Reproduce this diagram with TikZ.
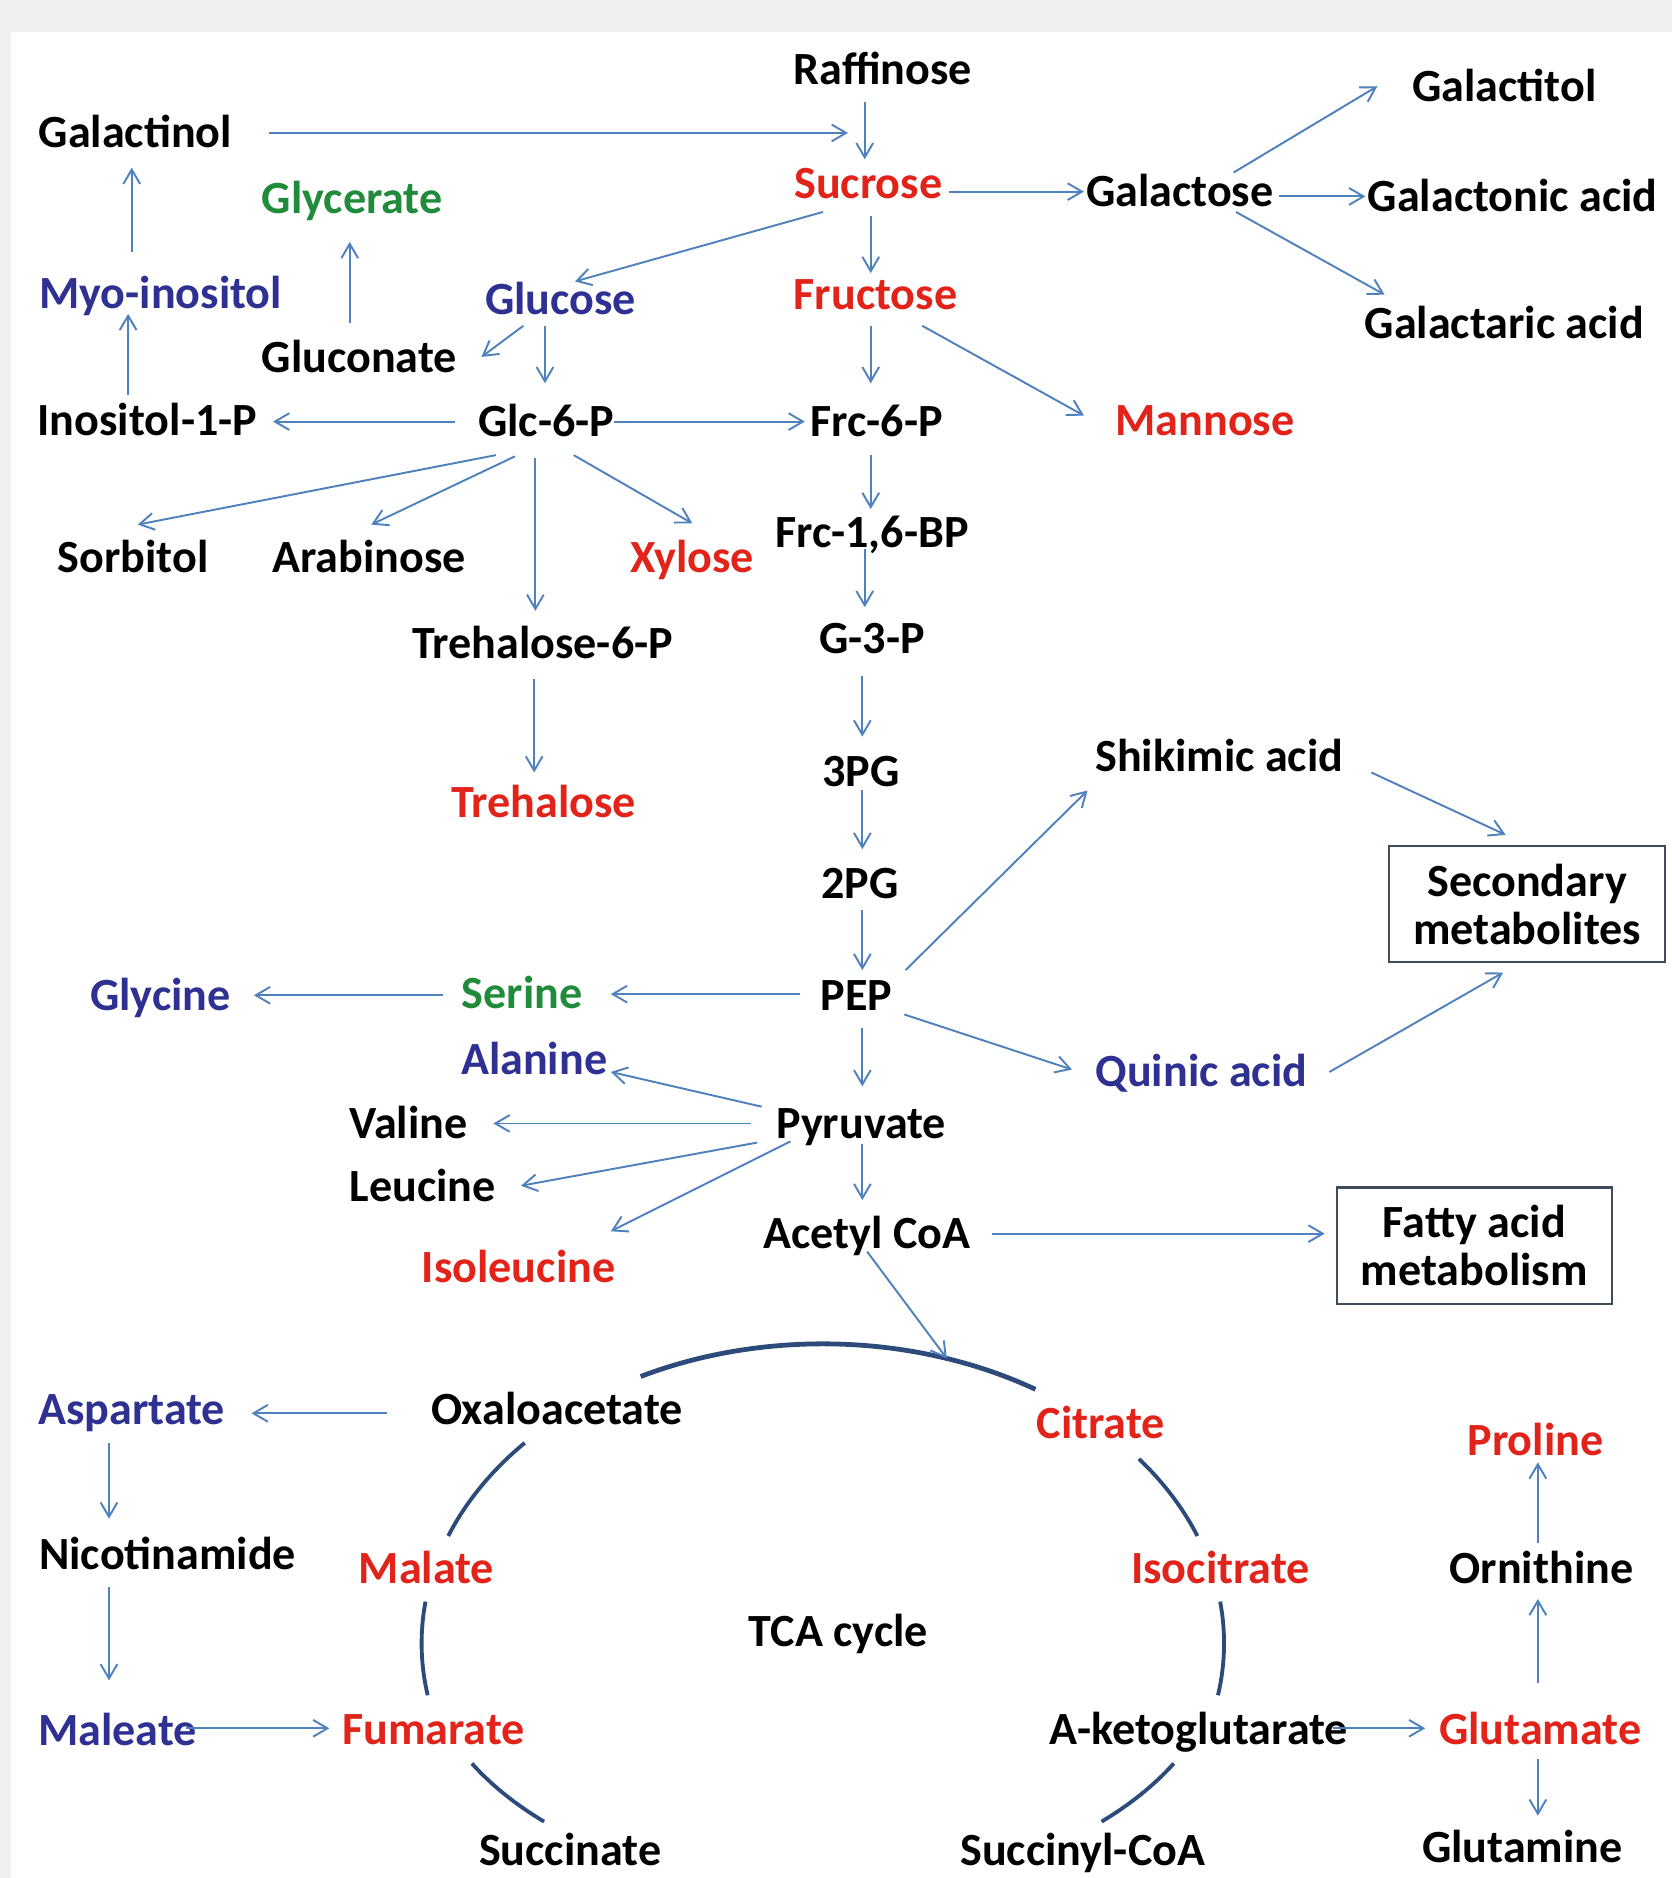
\documentclass[tikz,border=0pt]{standalone}
\usepackage{fontspec}
\setmainfont{Carlito}
\usepackage{tikz}
\usetikzlibrary{arrows.meta}
\usepackage{xcolor}
\definecolor{metred}{HTML}{E2231A}
\definecolor{metblue}{HTML}{2E3192}
\definecolor{metgreen}{HTML}{218B3C}
\definecolor{arrblue}{HTML}{4F81BD}
\definecolor{cycblue}{HTML}{2C4A7A}
\definecolor{boxgray}{HTML}{3F4A5A}
\definecolor{bggray}{HTML}{EEF1EE}
\newcommand{\metfont}{\fontsize{19.25pt}{20pt}\selectfont\bfseries}

\begin{document}
\begin{tikzpicture}[x=0.5pt,y=-0.5pt,
  every node/.style={font=\metfont},
  met/.style={inner sep=0pt,text height=12.4pt,text depth=0pt},
  redm/.style={met,text=metred},
  bluem/.style={met,text=metblue},
  greenm/.style={met,text=metgreen},
  endbox/.style={draw=boxgray,line width=0.9pt,minimum width=115pt,minimum height=48.5pt,inner sep=0pt,align=center},
  arr/.style={-{Straight Barb[length=6pt,width=7pt]},line width=0.8pt,draw=arrblue},
  cyc/.style={line width=1.6pt,draw=cycblue}
]
\useasboundingbox (0,0) rectangle (1396,1568);
\fill[bggray] (0,0) rectangle (1396,1568);
\fill[white] (9,27) rectangle (1396,1568);

% sugars
\node[met] (raff) at (737,58) {Raffinose};
\node[met] (galactinol) at (113,111) {Galactinol};
\node[redm] (sucrose) at (725,153) {Sucrose};
\node[met] (galactose) at (985,160) {Galactose};
\node[met] (galactitol) at (1256,72) {Galactitol};
\node[met] (galactonic) at (1263,164) {Galactonic acid};
\node[met] (galactaric) at (1256,270) {Galactaric acid};
\node[greenm] (glycerate) at (294,166) {Glycerate};
\node[bluem] (myo) at (134,245) {Myo-inositol};
\node[bluem] (glucose) at (468,250) {Glucose};
\node[redm] (fructose) at (731,246) {Fructose};
\node[met] (gluconate) at (300,299) {Gluconate};
\node[met] (inosp) at (123,351) {Inositol-1-P};
\node[met] (glcp) at (456,352) {Glc-6-P};
\node[met] (frcp) at (732,352) {Frc-6-P};
\node[redm] (mannose) at (1006,351) {Mannose};
\node[met] (sorbitol) at (111,466) {Sorbitol};
\node[met] (arabinose) at (308,466) {Arabinose};
\node[redm] (xylose) at (578,466) {Xylose};
\node[met] (frcbp) at (728,445) {Frc-1,6-BP};
\node[met] (trep) at (453,537) {Trehalose-6-P};
\node[redm] (trehalose) at (454,670) {Trehalose};

% glycolysis
\node[met] (gap) at (728,533) {G-3-P};
\node[met] (pg3) at (719,644) {3PG};
\node[met] (pg2) at (718,738) {2PG};
\node[met] (pep) at (715,831) {PEP};
\node[met] (shikimic) at (1018,632) {Shikimic acid};
\node[endbox] (secondary) at (1275,755) {Secondary\\metabolites};
\node[bluem] (quinic) at (1003,895) {Quinic acid};
\node[greenm] (serine) at (436,830) {Serine};
\node[bluem] (glycine) at (134,831) {Glycine};
\node[met] (pyruvate) at (719,938) {Pyruvate};
\node[bluem] (alanine) at (446,885) {Alanine};
\node[met] (valine) at (341,938) {Valine};
\node[met] (leucine) at (353,991) {Leucine};
\node[redm] (isoleucine) at (433,1058) {Isoleucine};
\node[met] (acetyl) at (724,1030) {Acetyl CoA};
\node[endbox] (fatty) at (1231,1040) {Fatty acid\\metabolism};

% TCA cycle
\node[met] (oxalo) at (465,1177) {Oxaloacetate};
\node[redm] (citrate) at (919,1189) {Citrate};
\node[redm] (malate) at (356,1310) {Malate};
\node[redm] (isocit) at (1019,1310) {Isocitrate};
\node[met] (tca) at (700,1362) {TCA cycle};
\node[redm] (fumarate) at (362,1444) {Fumarate};
\node[met] (aketo) at (1001,1444) {A-ketoglutarate};
\node[met] (succinate) at (476,1545) {Succinate};
\node[met] (succoa) at (904,1545) {Succinyl-CoA};
\node[bluem] (aspartate) at (110,1177) {Aspartate};
\node[met] (nicotin) at (140,1298) {Nicotinamide};
\node[bluem] (maleate) at (98,1445) {Maleate};
\node[redm] (glutamate) at (1286,1444) {Glutamate};
\node[met] (ornithine) at (1287,1310) {Ornithine};
\node[redm] (proline) at (1282,1203) {Proline};
\node[met] (glutamine) at (1271,1543) {Glutamine};

\coordinate (tcc) at (687,1372);
\coordinate (tcaentry) at ([shift={(-72:335 and 250)}]tcc);
\draw[cyc,line width=2pt] ([shift={(-117:335 and 250)}]tcc) arc[start angle=-117,end angle=-58,x radius=335,y radius=250];
\draw[cyc] ([shift={(-138:335 and 250)}]tcc) arc[start angle=-138,end angle=-159,x radius=335,y radius=250];
\draw[cyc] ([shift={(-172:335 and 250)}]tcc) arc[start angle=-172,end angle=-190,x radius=335,y radius=250];
\draw[cyc] ([shift={(151:335 and 207)}]tcc) arc[start angle=151,end angle=134,x radius=335,y radius=207];
\draw[cyc] ([shift={(-38:335 and 250)}]tcc) arc[start angle=-38,end angle=-21,x radius=335,y radius=250];
\draw[cyc] ([shift={(-8:335 and 250)}]tcc) arc[start angle=-8,end angle=10,x radius=335,y radius=250];
\draw[cyc] ([shift={(29:335 and 207)}]tcc) arc[start angle=29,end angle=46,x radius=335,y radius=207];

% upper part
\draw[arr] ([shift={(112,0)}]galactinol.center) -- ([shift={(-17,-42)}]sucrose.center);
\draw[arr] ([shift={(-15,27)}]raff.center) -- ([shift={(-3,-20)}]sucrose.center);
\draw[arr] ([shift={(67,7)}]sucrose.center) -- ([shift={(-80,0)}]galactose.center);
\draw[arr] ([shift={(45,-16)}]galactose.center) -- ([shift={(-106,0)}]galactitol.center);
\draw[arr] ([shift={(83,4)}]galactose.center) -- ([shift={(-123,0)}]galactonic.center);
\draw[arr] ([shift={(47,17)}]galactose.center) -- ([shift={(-100,-24)}]galactaric.center);
\draw[arr] ([shift={(-38,24)}]sucrose.center) -- ([shift={(12,-15)}]glucose.center);
\draw[arr] ([shift={(2,27)}]sucrose.center) -- ([shift={(-4,-18)}]fructose.center);
\draw[arr] ([shift={(-4,26)}]fructose.center) -- ([shift={(-5,-32)}]frcp.center);
\draw[arr] ([shift={(39,26)}]fructose.center) -- ([shift={(-101,-4)}]mannose.center);
\draw[arr] ([shift={(-31,22)}]glucose.center) -- ([shift={(102,-1)}]gluconate.center);
\draw[arr] ([shift={(-13,22)}]glucose.center) -- ([shift={(-1,-32)}]glcp.center);
\draw[arr] ([shift={(-8,-29)}]gluconate.center) -- ([shift={(-2,36)}]glycerate.center);
\draw[arr] ([shift={(-16,-21)}]inosp.center) -- ([shift={(-27,17)}]myo.center);
\draw[arr] ([shift={(-24,-35)}]myo.center) -- ([shift={(-3,29)}]galactinol.center);
\draw[arr] ([shift={(-76,0)}]glcp.center) -- ([shift={(105,1)}]inosp.center);
\draw[arr] ([shift={(57,0)}]glcp.center) -- ([shift={(-60,0)}]frcp.center);
\draw[arr] ([shift={(-42,28)}]glcp.center) -- ([shift={(4,-28)}]sorbitol.center);
\draw[arr] ([shift={(-26,29)}]glcp.center) -- ([shift={(2,-28)}]arabinose.center);
\draw[arr] ([shift={(-9,30)}]glcp.center) -- ([shift={(-6,-27)}]trep.center);
\draw[arr] ([shift={(23,28)}]glcp.center) -- ([shift={(0,-29)}]xylose.center);
\draw[arr] ([shift={(-7,30)}]trep.center) -- ([shift={(-8,-25)}]trehalose.center);

% glycolysis and branches
\draw[arr] ([shift={(-5,28)}]frcp.center) -- ([shift={(-1,-20)}]frcbp.center);
\draw[arr] ([shift={(-6,13)}]frcbp.center) -- ([shift={(-6,-26)}]gap.center);
\draw[arr] ([shift={(-8,31)}]gap.center) -- ([shift={(1,-29)}]pg3.center);
\draw[arr] ([shift={(1,16)}]pg3.center) -- ([shift={(2,-29)}]pg2.center);
\draw[arr] ([shift={(2,22)}]pg2.center) -- ([shift={(5,-21)}]pep.center);
\draw[arr] ([shift={(41,-21)}]pep.center) -- ([shift={(-110,28)}]shikimic.center);
\draw[arr] ([shift={(127,13)}]shikimic.center) -- ([shift={(-18,-58)}]secondary.center);
\draw[arr] ([shift={(-47,-1)}]pep.center) -- ([shift={(74,0)}]serine.center);
\draw[arr] ([shift={(-66,1)}]serine.center) -- ([shift={(78,0)}]glycine.center);
\draw[arr] ([shift={(40,16)}]pep.center) -- ([shift={(-108,-2)}]quinic.center);
\draw[arr] ([shift={(107,0)}]quinic.center) -- ([shift={(-20,57)}]secondary.center);
\draw[arr] ([shift={(5,27)}]pep.center) -- ([shift={(1,-31)}]pyruvate.center);
\draw[arr] ([shift={(-83,-14)}]pyruvate.center) -- ([shift={(64,10)}]alanine.center);
\draw[arr] ([shift={(-92,0)}]pyruvate.center) -- ([shift={(71,0)}]valine.center);
\draw[arr] ([shift={(-87,16)}]pyruvate.center) -- ([shift={(82,-1)}]leucine.center);
\draw[arr] ([shift={(-59,15)}]pyruvate.center) -- ([shift={(77,-30)}]isoleucine.center);
\draw[arr] ([shift={(1,17)}]pyruvate.center) -- ([shift={(-4,-28)}]acetyl.center);
\draw[arr] ([shift={(104,0)}]acetyl.center) -- ([shift={(-125,-10)}]fatty.center);
\draw[arr] ([shift={(0,15)}]acetyl.center) -- (tcaentry);

% around the cycle
\draw[arr] ([shift={(-142,3)}]oxalo.center) -- ([shift={(100,3)}]aspartate.center);
\draw[arr] ([shift={(-19,28)}]aspartate.center) -- ([shift={(-49,-30)}]nicotin.center);
\draw[arr] ([shift={(-49,27)}]nicotin.center) -- ([shift={(-7,-42)}]maleate.center);
\draw[arr] ([shift={(57,-2)}]maleate.center) -- ([shift={(-87,-1)}]fumarate.center);
\draw[arr] ([shift={(112,-1)}]aketo.center) -- ([shift={(-96,-1)}]glutamate.center);
\draw[arr] ([shift={(-2,-39)}]glutamate.center) -- ([shift={(-3,25)}]ornithine.center);
\draw[arr] ([shift={(-3,-22)}]ornithine.center) -- ([shift={(2,18)}]proline.center);
\draw[arr] ([shift={(-2,25)}]glutamate.center) -- ([shift={(13,-27)}]glutamine.center);
\end{tikzpicture}
\end{document}
